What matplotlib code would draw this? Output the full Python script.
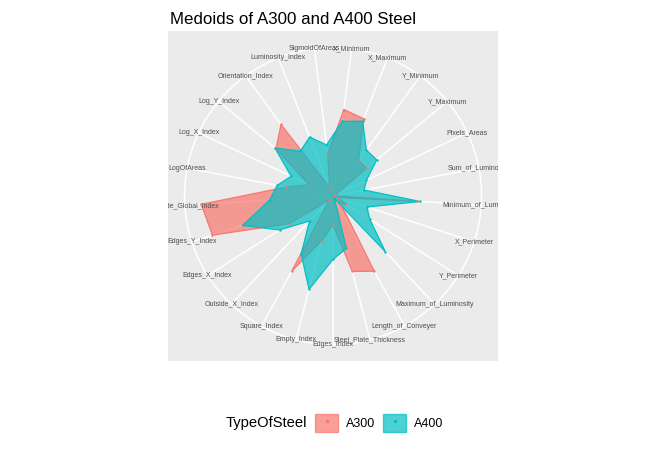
import numpy as np
import matplotlib
matplotlib.use("Agg")
import matplotlib.pyplot as plt
from matplotlib.patches import Rectangle, Patch
from matplotlib.lines import Line2D

plt.rcParams["font.family"] = ["Liberation Sans", "DejaVu Sans"]

# variables, clockwise from the top
features = [
    "X_Minimum", "X_Maximum", "Y_Minimum", "Y_Maximum", "Pixels_Areas",
    "Sum_of_Luminosity", "Minimum_of_Luminosity", "X_Perimeter", "Y_Perimeter",
    "Maximum_of_Luminosity", "Length_of_Conveyer", "Steel_Plate_Thickness",
    "Edges_Index", "Empty_Index", "Square_Index", "Outside_X_Index",
    "Edges_X_Index", "Edges_Y_Index", "Outside_Global_Index", "LogOfAreas",
    "Log_X_Index", "Log_Y_Index", "Orientation_Index", "Luminosity_Index",
    "SigmoidOfAreas",
]

# scaled medoid values
a300 = [0.66, 0.63, 0.33, 0.33, 0.02, 0.01, 0.63, 0.04, 0.12, 0.09, 0.65, 0.59,
        0.22, 0.35, 0.65, 0.04, 0.39, 0.96, 1.00, 0.36, 0.20, 0.56, 0.67, 0.07, 0.32]
a400 = [0.57, 0.61, 0.43, 0.43, 0.28, 0.24, 0.66, 0.27, 0.33, 0.58, 0.02, 0.41,
        0.48, 0.73, 0.50, 0.26, 0.48, 0.72, 0.48, 0.43, 0.35, 0.57, 0.42, 0.48, 0.39]

steel_types = ["A300", "A400"]
colors = ["#F8766D", "#00BFC4"]

W, H = 650, 450
fig = plt.figure(figsize=(6.5, 4.5), dpi=100)

# grey square panel (px coords of the reference)
pl, pt, ps = 168, 31, 330
panel = Rectangle((pl / W, 1 - (pt + ps) / H), ps / W, ps / H,
                  transform=fig.transFigure, facecolor="#EBEBEB",
                  edgecolor="none", zorder=-1)
fig.add_artist(panel)

cx, cy = pl + ps / 2, pt + ps / 2
rad = 0.45 * ps
ax = fig.add_axes([(cx - rad) / W, 1 - (cy + rad) / H, 2 * rad / W, 2 * rad / H],
                  projection="polar")
ax.set_facecolor("none")
ax.set_theta_zero_location("N")
ax.set_theta_direction(-1)

n = len(features)
theta = (np.arange(n) + 0.5) * 2 * np.pi / n
rmax = 1.0 * 0.45 / 0.4
ax.set_ylim(0, rmax)
ax.set_xticks(theta)
ax.set_xticklabels([])
ax.set_yticks([])
ax.tick_params(length=0)
ax.set_axisbelow(True)
ax.xaxis.grid(True, color="white", lw=1.1)
ax.yaxis.grid(False)
ax.spines["polar"].set_color("white")
ax.spines["polar"].set_linewidth(1.1)

for name, th in zip(features, theta):
    t = ax.text(th, rmax, name, ha="center", va="center", fontsize=5,
                color="#4D4D4D", clip_on=True)
    t.set_clip_path(panel)

tc = np.append(theta, theta[0])
for vals, col in zip([a300, a400], colors):
    v = np.append(vals, vals[0])
    ax.fill(tc, v, facecolor=col, alpha=0.7, edgecolor="none", zorder=2)
    ax.plot(tc, v, color=col, lw=0.9, zorder=2)
for vals, col in zip([a300, a400], colors):
    ax.scatter(theta, vals, s=3, color=col, zorder=3, linewidths=0)

fig.text(170 / W, 1 - 24 / H, "Medoids of A300 and A400 Steel",
         fontsize=12.2, ha="left", va="baseline")

handles = [(Patch(facecolor=c, alpha=0.7, edgecolor=c),
            Line2D([], [], marker="o", ms=1.5, color=c, ls="")) for c in colors]
fig.legend(handles, steel_types, loc="center left",
           bbox_to_anchor=(315 / W, 1 - 423 / H), ncol=2, frameon=False,
           fontsize=9, borderpad=0, borderaxespad=0, handlelength=1.84,
           handleheight=1.84, handletextpad=0.64, columnspacing=0.64)
fig.text(307 / W, 1 - 423 / H, "TypeOfSteel", fontsize=10.6,
         ha="right", va="center")

fig.savefig("out.png", dpi=100)
